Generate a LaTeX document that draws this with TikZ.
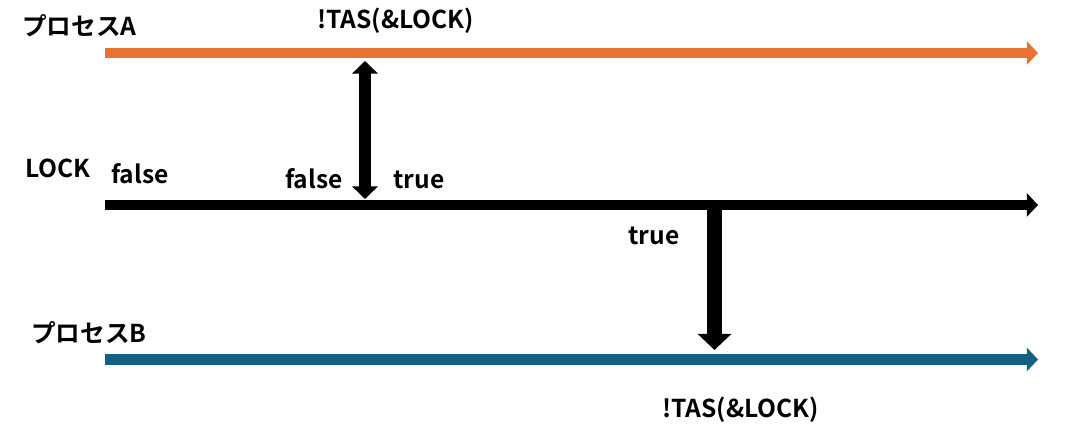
\documentclass[tikz,border=0pt]{standalone}
\usepackage{fontspec}
\setmainfont{Noto Sans CJK JP}[BoldFont={* Bold}]
\usepackage{tikz}
\usetikzlibrary{arrows.meta}

\definecolor{procA}{HTML}{E97132}
\definecolor{procB}{HTML}{156082}

\tikzset{
  lbl/.style={anchor=base west, inner sep=0pt, font=\fontsize{17.5}{20}\selectfont\bfseries},
  timeline/.style={line width=7.8pt, -{Triangle[length=8pt, width=16.5pt]}},
}

\begin{document}
\begin{tikzpicture}[x=0.025cm, y=-0.025cm]
        \useasboundingbox (0,0) rectangle (1075,442);

        % Time lines
        \coordinate (a0) at (105,53);
        \coordinate (a1) at (1038,53);
        \coordinate (l0) at (105,205);
        \coordinate (l1) at (1038,205);
        \coordinate (b0) at (105,359.5);
        \coordinate (b1) at (1038,359.5);

        \draw[timeline, procA] (a0) -- (a1);
        \draw[timeline, black] (l0) -- (l1);
        \draw[timeline, procB] (b0) -- (b1);

        % Labels
        \node[lbl] (pa) at (22,35) {プロセスA};
        \node[lbl] (lock) at (25,177) {LOCK};
        \node[lbl] (pb) at (31,342) {プロセスB};

        \node[lbl] (tasA) at (317,28.5) {!TAS(\&LOCK)};
        \node[lbl] (tasB) at (662,417) {!TAS(\&LOCK)};

        \node[lbl] (f0) at (111,183) {false};
        \node[lbl] (f1) at (285,188) {false};
        \node[lbl] (t0) at (393,188) {true};
        \node[lbl] (t1) at (628,244) {true};

        % TAS by A
        \coordinate (sa) at (365,61);
        \coordinate (sl) at (365,199);
        \draw[line width=8.5pt, {Triangle[length=9pt, width=18pt]}-{Triangle[length=9pt, width=18pt]}] (sa) -- (sl);

        % TAS by B
        \coordinate (tl) at (714.5,205);
        \coordinate (tb) at (714.5,350);
        \draw[line width=10.6pt, -{Triangle[length=11.5pt, width=23.5pt]}] (tl) -- (tb);
      \end{tikzpicture}
\end{document}
